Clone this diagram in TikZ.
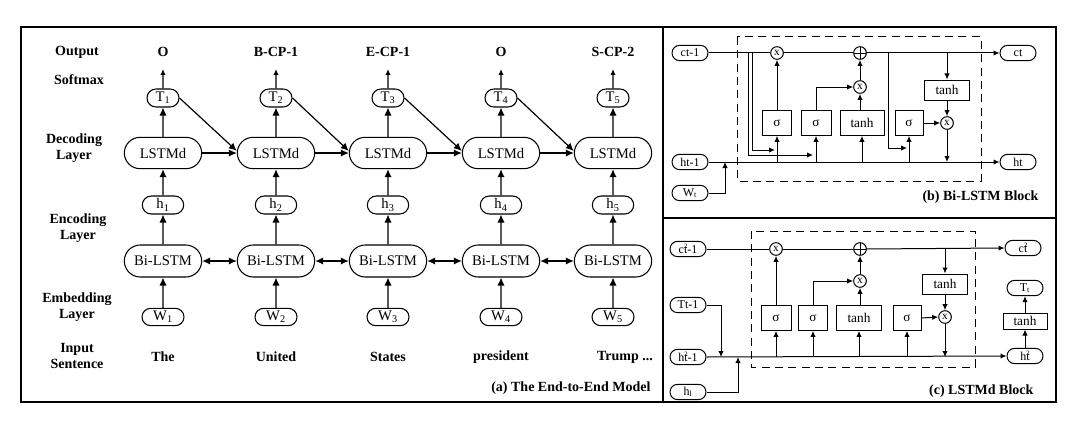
\documentclass[tikz,border=0pt]{standalone}
\usepackage{fontspec}
\setmainfont{Liberation Serif}
\usetikzlibrary{arrows.meta,shapes.misc}
\newcommand{\supmark}{\rlap{\raisebox{0.95ex}{\fontsize{5}{5}\selectfont 2}}}
\begin{document}
\begin{tikzpicture}[x=0.75pt,y=-0.75pt,
  arr/.style={-{Latex[length=6pt,width=5.5pt]}, line width=0.9pt},
  arrs/.style={-{Latex[length=4.5pt,width=4pt]}, line width=0.9pt},
  darr/.style={{Latex[length=6pt,width=5.5pt]}-{Latex[length=6pt,width=5.5pt]}, line width=0.9pt},
  rarr/.style={-{Latex[length=4.5pt,width=4pt]}, line width=0.75pt},
  rline/.style={line width=0.75pt},
  lbl/.style={font=\fontsize{10.5}{12}\selectfont\bfseries, align=center, inner sep=1pt},
  pill/.style={draw, rounded rectangle, inner sep=0pt, line width=0.8pt, font=\fontsize{11}{12}\selectfont},
  pillr/.style={draw, rounded rectangle, inner sep=0pt, line width=0.75pt, minimum width=27pt, minimum height=11.5pt, font=\fontsize{9}{10}\selectfont},
  gate/.style={draw, rectangle, inner sep=0pt, line width=0.75pt, minimum height=18.5pt, font=\fontsize{10}{10}\selectfont},
  gatetop/.style={draw, rectangle, inner sep=0pt, line width=0.75pt, minimum width=34pt, minimum height=15pt, font=\fontsize{10}{10}\selectfont},
  op/.style={draw, circle, inner sep=0pt, minimum size=9.5pt, line width=0.75pt, font=\fontsize{8.5}{8.5}\selectfont},
  opplus/.style={draw, circle, inner sep=0pt, minimum size=9.5pt, line width=0.75pt,
    path picture={\draw[line width=0.6pt] (path picture bounding box.north) -- (path picture bounding box.south)
      (path picture bounding box.west) -- (path picture bounding box.east);}},
  panel/.style={line width=1.4pt},
]
\useasboundingbox (0,0) rectangle (1080,428);

% ---------------- panel borders
\draw[panel] (21,27) rectangle (663,402);
\draw[panel] (663,27) rectangle (1056,218);
\draw[panel] (663,218) rectangle (1056,402);

% ---------------- (a) left labels
\node[lbl] (lOut) at (77,52) {Output};
\node[lbl] (lSoft) at (79,80) {Softmax};
\node[lbl] (lDec) at (74,148) {Decoding\\Layer};
\node[lbl] (lEnc) at (78,228) {Encoding\\Layer};
\node[lbl] (lEmb) at (77,307) {Embedding\\Layer};
\node[lbl] (lIn) at (77,356) {Input\\Sentence};

\foreach \i/\x/\o in {1/163/O, 2/276/B-CP-1, 3/388/E-CP-1, 4/501/O, 5/613/S-CP-2}{
  \node[lbl] (o\i) at (\x,52) {\o};
  \coordinate (a\i) at (\x,69);
  \node[pill, minimum width=24pt, minimum height=13.5pt] (T\i) at (\x,98) {T\textsubscript{\i}};
  \node[pill, minimum width=58pt, minimum height=23.5pt] (D\i) at (\x,153) {LSTMd};
  \node[pill, minimum width=31pt, minimum height=13.5pt] (h\i) at (\x,205) {h\textsubscript{\i}};
  \node[pill, minimum width=58pt, minimum height=24pt] (B\i) at (\x,261) {Bi-LSTM};
  \node[pill, minimum width=31.5pt, minimum height=13pt] (W\i) at (\x,317) {W\textsubscript{\i}};
  \draw[arrs] (T\i) -- (a\i);
  \draw[arr] (D\i) -- (T\i);
  \draw[arr] (h\i) -- (D\i);
  \draw[arr] (B\i) -- (h\i);
  \draw[arr] (W\i) -- (B\i);
}
\node[lbl] (s1) at (163,357) {The};
\node[lbl] (s2) at (276,357) {United};
\node[lbl] (s3) at (388,357) {States};
\node[lbl] (s4) at (501,357) {president};
\node[lbl] (s5) at (625,357) {Trump ...};

\foreach \i/\j in {1/2,2/3,3/4,4/5}{
  \draw[arr] (D\i.east) -- (D\j.west);
  \draw[arr] (T\i.east) -- ([yshift=1.5pt]D\j.west);
  \draw[darr] (B\i.east) -- (B\j.west);
}
\node[lbl, anchor=east] (capa) at (652,388) {(a) The End-to-End Model};

% ---------------- (b) Bi-LSTM block
\draw[rline, dashed, dash pattern=on 6pt off 4pt] (737,37) rectangle (981,181);
\node[pillr] (bc0) at (690,53) {ct-1};
\node[pillr] (bh0) at (690,162) {ht-1};
\node[pillr] (bw) at (690,193) {W\textsubscript{t}};
\node[pillr] (bc1) at (1018,53) {ct};
\node[pillr] (bh1) at (1018,162) {ht};

\node[op] (bx1) at (777,53) {x};
\node[opplus] (bp) at (860,53) {};
\node[op] (bx2) at (860,87) {x};
\node[op] (bx3) at (947,123) {x};

\node[gate, minimum width=22pt] (bs1) at (777,123) {σ};
\node[gate, minimum width=22.5pt] (bs2) at (816,123) {σ};
\node[gate, minimum width=33pt] (bt1) at (862,123) {tanh};
\node[gate, minimum width=21pt] (bs3) at (909,123) {σ};
\node[gatetop] (bt2) at (947,90) {tanh};

\draw[rline] (bc0.east) -- (bx1.west);
\draw[rline] (bx1.east) -- (bp.west);
\draw[rarr] (bp.east) -- (bc1.west);
\draw[rarr] (bh0.east) -- (bh1.west);
\coordinate (bjw) at (725,162);
\draw[rarr] (bw.east) -| (bjw);

\coordinate (bpa) at (748,53);
\coordinate (bpa2) at (813,155);
\coordinate (bpb) at (752,53);
\coordinate (bpb2) at (775,150);
\coordinate (bpc) at (888,53);
\coordinate (bpc2) at (907,148);
\draw[rarr] (bpa) |- (bpa2);
\draw[rarr] (bpb) |- (bpb2);
\draw[rarr] (bpc) |- (bpc2);

\foreach \g in {bs1,bs2,bt1,bs3}{
  \draw[rarr] (\g.south |- bh0.east) -- (\g.south);
}
\draw[rarr] (bs1.north) -- (bx1.south);
\draw[rarr] (bs2.north) |- (bx2.west);
\draw[rarr] (bt1.north -| bx2) -- (bx2.south);
\draw[rarr] (bx2.north) -- (bp.south);
\draw[rarr] (bt2.north |- bc0.east) -- (bt2.north);
\draw[rarr] (bt2.south) -- (bx3.north);
\draw[rarr] (bs3.east) -- (bx3.west);
\draw[rarr] (bx3.south) -- (bx3.south |- bh0.east);
\node[lbl, anchor=east] (capb) at (1040,197) {(b) Bi-LSTM Block};

% ---------------- (c) LSTMd block
\draw[rline, dashed, dash pattern=on 6pt off 4pt] (751,231) rectangle (975,367);
\node[pillr] (cc0) at (688,249) {c\supmark t-1};
\node[pillr] (cT0) at (688,305) {Tt-1};
\node[pillr] (ch0) at (688,357) {h\supmark t-1};
\node[pillr] (chl) at (688,392) {h\textsubscript{l}};
\node[pillr] (cc1) at (1023,248) {c\supmark t};
\node[pillr] (cTt) at (1025,288) {T\textsubscript{t}};
\node[draw, rectangle, inner sep=0pt, line width=0.75pt, minimum width=33pt, minimum height=12pt, font=\fontsize{10}{10}\selectfont] (ctn) at (1025,321) {tanh};
\node[pillr] (ch1) at (1025,356) {h\supmark t};

\node[op] (cx1) at (776,249) {x};
\node[opplus] (cp) at (860,249) {};
\node[op] (cx2) at (860,281) {x};
\node[op] (cx3) at (945,317) {x};

\node[gate, minimum width=22.5pt] (cs1) at (776,318) {σ};
\node[gate, minimum width=22pt] (cs2) at (813,318) {σ};
\node[gate, minimum width=33.5pt] (ct1) at (859,318) {tanh};
\node[gate, minimum width=21pt] (cs3) at (907,318) {σ};
\node[gatetop] (ct2) at (945,284) {tanh};

\draw[rline] (cc0.east) -- (cx1.west);
\draw[rline] (cx1.east) -- (cp.west);
\draw[rarr] (cp.east) -- (cc1.west);
\draw[rarr] (ch0.east) -- (ch1.west);
\coordinate (cjT) at (721,357);
\coordinate (cjl) at (738,357);
\draw[rarr] (cT0.east) -| (cjT);
\draw[rarr] (chl.east) -| (cjl);

\foreach \g in {cs1,cs2,ct1,cs3}{
  \draw[rarr] (\g.south |- ch0.east) -- (\g.south);
}
\draw[rarr] (cs1.north) -- (cx1.south);
\draw[rarr] (cs2.north) |- (cx2.west);
\draw[rarr] (ct1.north -| cx2) -- (cx2.south);
\draw[rarr] (cx2.north) -- (cp.south);
\draw[rarr] (ct2.north |- cc0.east) -- (ct2.north);
\draw[rarr] (ct2.south) -- (cx3.north);
\draw[rarr] (cs3.east) -- (cx3.west);
\draw[rarr] (cx3.south) -- (cx3.south |- ch0.east);
\draw[rarr] (ch1.north) -- (ctn.south);
\draw[rarr] (ctn.north) -- (cTt.south);
\node[lbl, anchor=east] (capc) at (1035,391) {(c) LSTMd Block};
\end{tikzpicture}
\end{document}
